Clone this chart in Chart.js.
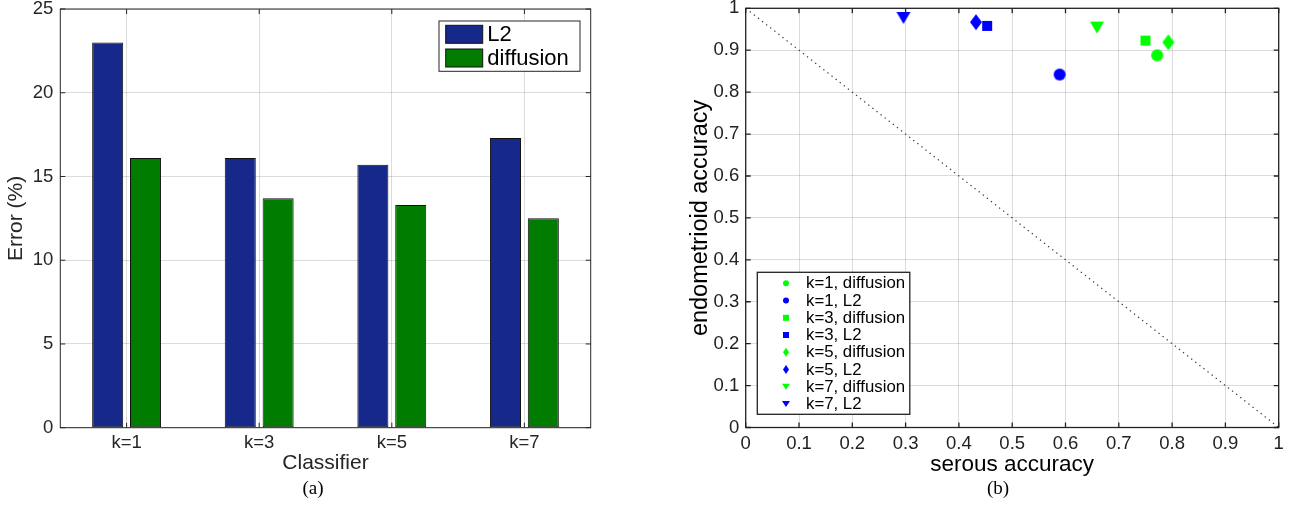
<!DOCTYPE html>
<html>
<head>
<meta charset="utf-8">
<script src="https://cdn.jsdelivr.net/npm/chart.js@4.4.1/dist/chart.umd.min.js"></script>
<style>
  html, body { margin: 0; padding: 0; background: #fff; }
  body { width: 1295px; height: 527px; position: relative; overflow: hidden; }
  #panelA { position: absolute; left: 0; top: 0; width: 650px; height: 527px; }
  #panelB { position: absolute; left: 650px; top: 0; width: 645px; height: 527px; }
  .cap { position: absolute; top: 477px; font-family: "Liberation Serif", "Times New Roman", serif;
         font-size: 19px; line-height: 22px; color: #000; transform: translateX(-50%); white-space: nowrap; }
</style>
</head>
<body>
<div id="panelA"><canvas id="errorChart" width="650" height="527"></canvas></div>
<div id="panelB"><canvas id="accChart" width="645" height="527"></canvas></div>
<div class="cap" style="left:313px">(a)</div>
<div class="cap" style="left:998px">(b)</div>

<script>
// ---- (a) classification error per classifier ----
const classifiers = ['k=1', 'k=3', 'k=5', 'k=7'];
const errorL2 = [23.0, 16.1, 15.7, 17.3];
const errorDiffusion = [16.1, 13.7, 13.3, 12.5];
const errorTicks = [0, 5, 10, 15, 20, 25];

// ---- (b) per-class accuracy, ordered k=1, k=3, k=5, k=7 ----
const kValues = [1, 3, 5, 7];
const serousDiffusion = [0.772, 0.750, 0.793, 0.659];
const endoDiffusion = [0.888, 0.923, 0.919, 0.954];
const serousL2 = [0.589, 0.453, 0.432, 0.296];
const endoL2 = [0.842, 0.958, 0.967, 0.977];
const accTicks = [0, 0.1, 0.2, 0.3, 0.4, 0.5, 0.6, 0.7, 0.8, 0.9, 1];

const SANS = '"Liberation Sans", Arial, Helvetica, sans-serif';
const AXIS = '#262626';
const GRID = 'rgba(38,38,38,0.16)';

// draw a marker shape of the given box size centred on (cx, cy)
function shapePath(g, shape, cx, cy, w, h) {
  g.beginPath();
  if (shape === 'diamond') {
    g.moveTo(cx, cy - h / 2); g.lineTo(cx + w / 2, cy); g.lineTo(cx, cy + h / 2); g.lineTo(cx - w / 2, cy);
  } else if (shape === 'tridown') {
    g.moveTo(cx - w / 2, cy - h / 2); g.lineTo(cx + w / 2, cy - h / 2); g.lineTo(cx, cy + h / 2);
  } else if (shape === 'square') {
    g.rect(cx - w / 2, cy - h / 2, w, h);
  } else {
    g.ellipse(cx, cy, w / 2, h / 2, 0, 0, Math.PI * 2);
  }
  g.closePath();
}

function markerImage(shape, color, w, h) {
  const c = document.createElement('canvas');
  c.width = Math.ceil(w) + 2; c.height = Math.ceil(h) + 2;
  const g = c.getContext('2d');
  g.fillStyle = color;
  shapePath(g, shape, c.width / 2, c.height / 2, w, h);
  g.fill();
  return c;
}

// axes box with inward tick marks on all four sides
const frameTicks = {
  id: 'frameTicks',
  afterDatasetsDraw(chart, args, opts) {
    const { ctx, chartArea: a } = chart;
    const xs = chart.scales.x, ys = chart.scales.y;
    const L = opts.len;
    ctx.save();
    ctx.strokeStyle = opts.color;
    ctx.lineWidth = opts.width;
    ctx.beginPath();
    xs.ticks.forEach((t, i) => {
      const px = xs.getPixelForTick(i);
      ctx.moveTo(px, a.bottom); ctx.lineTo(px, a.bottom - L);
      ctx.moveTo(px, a.top); ctx.lineTo(px, a.top + L);
    });
    ys.ticks.forEach((t, i) => {
      const py = ys.getPixelForTick(i);
      ctx.moveTo(a.left, py); ctx.lineTo(a.left + L, py);
      ctx.moveTo(a.right, py); ctx.lineTo(a.right - L, py);
    });
    ctx.stroke();
    ctx.strokeRect(a.left, a.top, a.right - a.left, a.bottom - a.top);
    ctx.restore();
  }
};

// fixed axis sizes so both panels keep their plot boxes
function fixSize(prop, size) {
  return function (scale) {
    scale[prop] = size;
    scale.paddingTop = 0; scale.paddingBottom = 0;
    scale.paddingLeft = 0; scale.paddingRight = 0;
  };
}
function useTicks(values) {
  return function (scale) { scale.ticks = values.map(v => ({ value: v })); };
}

// legend for (a): boxed, top-right inside the axes
const barLegend = {
  id: 'barLegend',
  afterDraw(chart) {
    const { ctx, chartArea: a } = chart;
    const w = 141, h = 50.3;
    const left = a.right - 10.7 - w, top = a.top + 12;
    ctx.save();
    ctx.fillStyle = '#fff';
    ctx.fillRect(left, top, w, h);
    ctx.strokeStyle = AXIS; ctx.lineWidth = 1;
    ctx.strokeRect(left, top, w, h);
    ctx.font = '22px ' + SANS;
    ctx.textBaseline = 'middle';
    ctx.textAlign = 'left';
    chart.data.datasets.forEach((ds, i) => {
      const sy = top + 4.3 + i * 23.7;
      ctx.fillStyle = ds.backgroundColor;
      ctx.fillRect(left + 6.7, sy, 37, 18);
      ctx.strokeStyle = '#111'; ctx.lineWidth = 1;
      ctx.strokeRect(left + 6.7, sy, 37, 18);
      ctx.fillStyle = '#000';
      ctx.fillText(ds.label, left + 48.3, sy + 9.5);
    });
    ctx.restore();
  }
};

// legend for (b): boxed, bottom-left inside the axes
const accLegend = {
  id: 'accLegend',
  afterDraw(chart) {
    const { ctx, chartArea: a } = chart;
    const items = chart.data.datasets.filter(d => d.legendShape);
    const w = 152.5, h = 142;
    const left = a.left + 11.6, top = a.bottom - 13.2 - h;
    ctx.save();
    ctx.fillStyle = '#fff';
    ctx.fillRect(left, top, w, h);
    ctx.strokeStyle = '#222'; ctx.lineWidth = 1.3;
    ctx.strokeRect(left, top, w, h);
    ctx.font = '16.8px ' + SANS;
    ctx.textBaseline = 'middle';
    ctx.textAlign = 'left';
    items.forEach((ds, i) => {
      const cy = top + 11 + i * 17.24;
      const [mw, mh] = ds.legendSize;
      ctx.fillStyle = ds.markerColor;
      shapePath(ctx, ds.legendShape, left + 28.7, cy, mw, mh);
      ctx.fill();
      ctx.fillStyle = '#000';
      ctx.fillText(ds.label, left + 48.7, cy + 0.5);
    });
    ctx.restore();
  }
};

// ---------------- chart (a) ----------------
new Chart(document.getElementById('errorChart'), {
  type: 'bar',
  data: {
    labels: classifiers,
    datasets: [
      { label: 'L2', data: errorL2, backgroundColor: '#16298a', borderColor: '#111',
        borderWidth: 1, borderSkipped: false },
      { label: 'diffusion', data: errorDiffusion, backgroundColor: '#007d00', borderColor: '#111',
        borderWidth: 1, borderSkipped: false }
    ]
  },
  options: {
    responsive: false,
    animation: false,
    events: [],
    categoryPercentage: 0.571,
    barPercentage: 0.82,
    layout: { padding: { left: 0, right: 59.3, top: 9, bottom: 51.3 } },
    plugins: { legend: { display: false }, tooltip: { enabled: false },
               frameTicks: { len: 5, color: AXIS, width: 1 } },
    scales: {
      x: {
        offset: true,
        grid: { offset: false, color: GRID, lineWidth: 1, drawTicks: false },
        border: { display: false },
        ticks: { color: AXIS, padding: 4, font: { family: SANS, size: 18.5 } },
        title: { display: true, text: 'Classifier', color: AXIS, padding: { top: 0, bottom: 0 },
                 font: { family: SANS, size: 21 } },
        afterFit: fixSize('height', 48)
      },
      y: {
        min: 0, max: 25,
        afterBuildTicks: useTicks(errorTicks),
        grid: { color: GRID, lineWidth: 1, drawTicks: false },
        border: { display: false },
        ticks: { color: AXIS, padding: 7, font: { family: SANS, size: 18.5 } },
        title: { display: true, text: 'Error (%)', color: AXIS, padding: { top: 4, bottom: 0 },
                 font: { family: SANS, size: 21 } },
        afterFit: fixSize('width', 60.3)
      }
    }
  },
  plugins: [frameTicks, barLegend]
});

// ---------------- chart (b) ----------------
const shapes = ['circle', 'square', 'diamond', 'tridown'];
const plotSize = { circle: [12, 12], square: [10, 10], diamond: [12, 16], tridown: [14, 12] };
const legendSize = { circle: [6, 6], square: [6, 6], diamond: [6, 9], tridown: [8, 6] };
const GREEN = '#00ff00', BLUE = '#0000ff';

const accDatasets = [];
kValues.forEach((k, i) => {
  const shape = shapes[i];
  [['diffusion', GREEN, serousDiffusion, endoDiffusion], ['L2', BLUE, serousL2, endoL2]]
    .forEach(([name, color, xs, ys]) => {
      accDatasets.push({
        label: 'k=' + k + ', ' + name,
        data: [{ x: xs[i], y: ys[i] }],
        pointStyle: markerImage(shape, color, plotSize[shape][0], plotSize[shape][1]),
        pointRadius: 6,
        backgroundColor: color,
        borderColor: color,
        markerColor: color,
        legendShape: shape,
        legendSize: legendSize[shape]
      });
    });
});
// chance line from (0,1) to (1,0)
accDatasets.push({
  label: 'diagonal',
  data: [{ x: 0, y: 1 }, { x: 1, y: 0 }],
  showLine: true,
  pointRadius: 0,
  borderColor: '#333',
  borderWidth: 1.2,
  borderDash: [1.3, 3.9],
  fill: false
});

new Chart(document.getElementById('accChart'), {
  type: 'scatter',
  data: { datasets: accDatasets },
  options: {
    responsive: false,
    animation: false,
    events: [],
    layout: { padding: { left: 0, right: 16.3, top: 8.3, bottom: 48.8 } },
    plugins: { legend: { display: false }, tooltip: { enabled: false },
               frameTicks: { len: 5, color: '#222', width: 1.3 } },
    scales: {
      x: {
        type: 'linear', min: 0, max: 1,
        afterBuildTicks: useTicks(accTicks),
        grid: { color: GRID, lineWidth: 1, drawTicks: false },
        border: { display: false },
        ticks: { color: '#222', padding: 5, font: { family: SANS, size: 18.5 },
                 callback: v => String(v) },
        title: { display: true, text: 'serous accuracy', color: '#000', padding: { top: 0, bottom: 0 },
                 font: { family: SANS, size: 22.5 } },
        afterFit: fixSize('height', 50.7)
      },
      y: {
        type: 'linear', min: 0, max: 1,
        afterBuildTicks: useTicks(accTicks),
        grid: { color: GRID, lineWidth: 1, drawTicks: false },
        border: { display: false },
        ticks: { color: '#222', padding: 6.4, font: { family: SANS, size: 18.5 },
                 callback: v => String(v) },
        title: { display: true, text: 'endometrioid accuracy', color: '#000', padding: { top: 36.5, bottom: 0 },
                 font: { family: SANS, size: 23.5 } },
        afterFit: fixSize('width', 95.7)
      }
    }
  },
  plugins: [frameTicks, accLegend]
});
</script>
</body>
</html>
